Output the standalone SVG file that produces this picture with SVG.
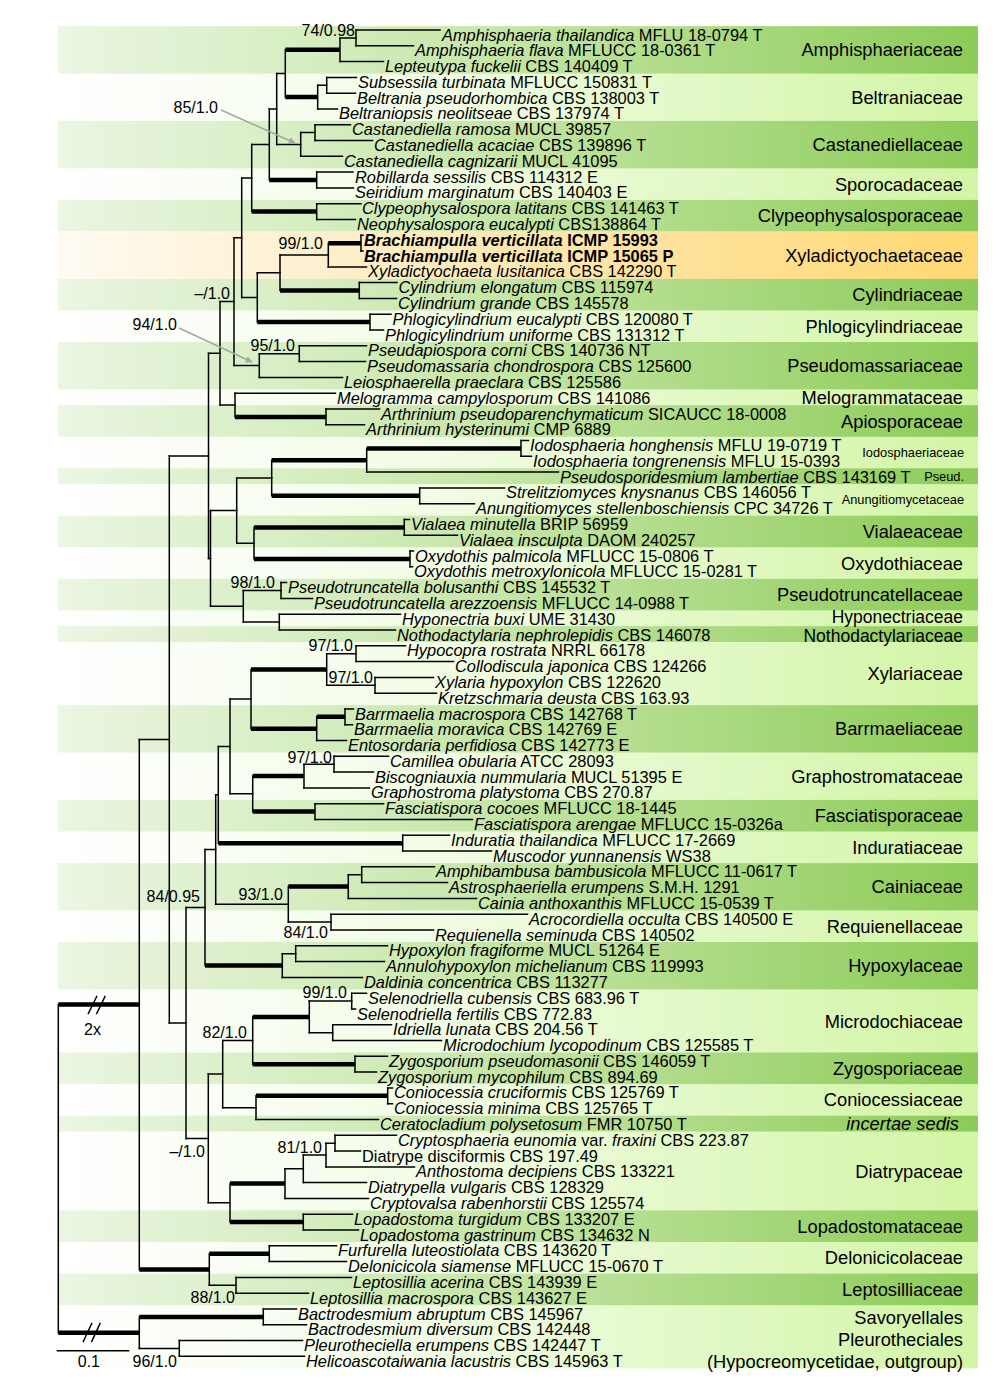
<svg xmlns="http://www.w3.org/2000/svg" width="1001" height="1385" viewBox="0 0 1001 1385">
<defs>
<linearGradient id="gD" gradientUnits="userSpaceOnUse" x1="58" y1="0" x2="978" y2="0"><stop offset="0" stop-color="#ebf6e3"/><stop offset="0.45" stop-color="#c8e7aa"/><stop offset="1" stop-color="#8ccb57"/></linearGradient>
<linearGradient id="gL" gradientUnits="userSpaceOnUse" x1="58" y1="0" x2="978" y2="0"><stop offset="0" stop-color="#ffffff"/><stop offset="0.4" stop-color="#f2fce6"/><stop offset="1" stop-color="#d2f5a5"/></linearGradient>
<linearGradient id="gO" gradientUnits="userSpaceOnUse" x1="58" y1="0" x2="978" y2="0"><stop offset="0" stop-color="#fffbf3"/><stop offset="0.45" stop-color="#fde9b8"/><stop offset="1" stop-color="#ffd872"/></linearGradient>
<marker id="ah" viewBox="0 0 10 10" refX="9" refY="5" markerWidth="7" markerHeight="7" orient="auto" markerUnits="userSpaceOnUse"><path d="M0 0L10 5L0 10z" fill="#a6a6a6"/></marker>
</defs>
<style>
text{font-family:"Liberation Sans",Arial,sans-serif;fill:#000}
.t{font-size:16.4px}
.i{font-style:italic}
.b{font-weight:bold}
.f{font-size:18.3px;text-anchor:end}
.fm{font-size:17.5px;text-anchor:end}
.fs{font-size:12.8px;text-anchor:end}
.s{font-size:16px;text-anchor:end}
.br{fill:none;stroke:#000;stroke-width:1.5;stroke-linecap:square}
.tk{fill:none;stroke:#000;stroke-width:4.5;stroke-linecap:butt}
.ar{fill:none;stroke:#a6a6a6;stroke-width:1.6}
</style>
<rect width="1001" height="1385" fill="#fff"/>
<g id="bands">
<rect x="58" y="26.2" width="920" height="1342.2" fill="url(#gL)"/>
<rect x="58" y="26.2" width="920" height="47.4" fill="url(#gD)"/>
<rect x="58" y="120.9" width="920" height="47.4" fill="url(#gD)"/>
<rect x="58" y="199.9" width="920" height="31.6" fill="url(#gD)"/>
<rect x="58" y="231.5" width="920" height="47.4" fill="url(#gO)"/>
<rect x="58" y="278.9" width="920" height="31.5" fill="url(#gD)"/>
<rect x="58" y="342.0" width="920" height="47.4" fill="url(#gD)"/>
<rect x="58" y="405.2" width="920" height="31.6" fill="url(#gD)"/>
<rect x="58" y="468.3" width="920" height="15.8" fill="url(#gD)"/>
<rect x="58" y="515.7" width="920" height="31.6" fill="url(#gD)"/>
<rect x="58" y="578.8" width="920" height="31.6" fill="url(#gD)"/>
<rect x="58" y="626.2" width="920" height="15.8" fill="url(#gD)"/>
<rect x="58" y="705.2" width="920" height="47.3" fill="url(#gD)"/>
<rect x="58" y="799.9" width="920" height="31.6" fill="url(#gD)"/>
<rect x="58" y="863.1" width="920" height="47.3" fill="url(#gD)"/>
<rect x="58" y="942.0" width="920" height="47.4" fill="url(#gD)"/>
<rect x="58" y="1052.5" width="920" height="31.6" fill="url(#gD)"/>
<rect x="58" y="1115.7" width="920" height="15.8" fill="url(#gD)"/>
<rect x="58" y="1210.4" width="920" height="31.6" fill="url(#gD)"/>
<rect x="58" y="1273.6" width="920" height="31.6" fill="url(#gD)"/>
</g>
<g id="connectors">
<path class="br" d="M356 30V45.8M340 37.9V61.6M326.7 77.4V93.2M317.7 85.3V108.9M285.3 49.75V97.1M315 124.7V140.5M300.7 132.6V156.3M276.7 73.4V144.45M316.7 172.1V187.9M269.3 108.9V180M316.7 203.7V219.5M251.7 144.5V211.6M361 235.3V251.1M328.3 243.2V266.9M359.3 282.6V298.4M280 255.05V290.5M370 314.2V330M257.3 272.8V322.1M241.7 178V297.45M299.3 345.8V361.6M259.3 353.7V377.4M234 237.7V365.55M326 409V424.8M235 393.2V416.9M220 301.6V405.05M521 440.5V456.3M366.7 448.4V472.1M419.7 487.9V503.7M271.7 460.25V495.8M404.3 519.5V535.3M410 551.1V566.8M254 527.4V558.95M236.7 478V543.2M281 582.6V598.4M279.3 614.2V630M243.3 590.5V622.1M210.5 510.6V606.3M208.5 353.3V558.45M356 645.8V661.6M375 677.4V693.2M326.7 653.7V685.3M345 709V724.7M316.7 716.85V740.5M251 669.5V728.7M334 756.3V772.1M304 764.2V787.9M315 803.7V819.5M252.7 776.05V811.6M230 699.1V793.8M402.7 835.3V851.1M218.3 746.45V843.2M361.7 866.8V882.6M348.3 874.7V898.4M331 914.2V930M288.3 886.55V922.1M215.7 794.8V904.3M295.7 945.8V961.6M282.3 953.7V977.4M205 849.55V965.55M351.7 993.2V1009M332.7 1024.8V1040.5M309.3 1001.1V1032.65M355 1056.3V1072.1M252.7 1016.9V1064.2M387.7 1087.9V1103.7M256 1095.8V1119.5M222.7 1040.55V1107.65M335 1135.3V1151.1M326 1143.2V1166.9M303.3 1155.05V1182.6M285 1168.8V1198.4M303.3 1214.2V1230M230 1183.6V1222.1M208.3 1074.1V1202.85M186 907.55V1138.5M169.3 455.9V1023M269.3 1245.8V1261.6M236 1277.4V1293.2M209.3 1253.7V1285.3M139.3 739.45V1269.5M263.3 1309V1324.8M179.3 1340.5V1356.3M139.3 1316.9V1348.4M58.3 1004.5V1332.65"/>
<path class="br" d="M356 30H440M356 45.8H413.5M340 37.9H356M340 61.6H383.5M326.7 77.4H356.5M326.7 93.2H355.5M317.7 85.3H326.7M317.7 108.9H337.5M315 124.7H350.5M315 140.5H372.5M300.7 132.6H315M300.7 156.3H342.5M276.7 73.4H285.3M276.7 144.45H300.7M316.7 172.1H353M316.7 187.9H353.5M269.3 108.9H276.7M316.7 203.7H361M316.7 219.5H355.5M251.7 144.5H269.3M361 235.3H363M361 251.1H363M328.3 266.9H366.5M359.3 282.6H397M359.3 298.4H396.5M280 255.05H328.3M370 314.2H391M370 330H383.5M257.3 272.8H280M241.7 178H251.7M241.7 297.45H257.3M299.3 345.8H366.5M299.3 361.6H365.5M259.3 353.7H299.3M259.3 377.4H342.5M234 237.7H241.7M234 365.55H259.3M326 409H379.5M326 424.8H364.5M235 393.2H335.5M220 301.6H234M220 405.05H235M521 440.5H528.5M521 456.3H531.5M366.7 472.1H558.5M419.7 487.9H504.5M419.7 503.7H474.5M404.3 519.5H409.5M404.3 535.3H457.5M410 551.1H413.5M410 566.8H412.5M236.7 478H271.7M236.7 543.2H254M281 582.6H286.5M281 598.4H312.5M279.3 614.2H400.5M279.3 630H395.5M243.3 590.5H281M243.3 622.1H279.3M210.5 510.6H236.7M210.5 606.3H243.3M208.5 353.3H220M208.5 558.45H210.5M356 645.8H405.5M356 661.6H453.5M375 677.4H433.5M375 693.2H436.5M326.7 653.7H356M326.7 685.3H375M345 709H353.5M345 724.7H352.5M316.7 740.5H346.5M334 756.3H388.5M334 772.1H373.5M304 764.2H334M304 787.9H369.5M315 803.7H383.5M315 819.5H472.5M230 699.1H251M230 793.8H252.7M402.7 835.3H449.5M402.7 851.1H491.5M218.3 746.45H230M361.7 866.8H434.5M361.7 882.6H447.5M348.3 874.7H361.7M348.3 898.4H476.5M331 914.2H527.5M331 930H433.5M288.3 922.1H331M215.7 794.8H218.3M215.7 904.3H288.3M295.7 945.8H387.5M295.7 961.6H384.5M282.3 953.7H295.7M282.3 977.4H362.5M205 849.55H215.7M351.7 993.2H366.5M351.7 1009H355.5M332.7 1024.8H391.5M332.7 1040.5H441.5M309.3 1001.1H351.7M309.3 1032.65H332.7M355 1056.3H387.5M355 1072.1H376.5M387.7 1087.9H392.5M387.7 1103.7H392.5M256 1119.5H378.5M222.7 1040.55H252.7M222.7 1107.65H256M335 1135.3H396.5M335 1151.1H360.5M326 1143.2H335M326 1166.9H414.5M303.3 1155.05H326M303.3 1182.6H366.5M285 1168.8H303.3M285 1198.4H368.5M303.3 1214.2H352.5M303.3 1230H358.5M208.3 1074.1H222.7M208.3 1202.85H230M186 907.55H205M186 1138.5H208.3M169.3 455.9H208.5M169.3 1023H186M269.3 1245.8H336.5M269.3 1261.6H346.5M236 1277.4H351.5M236 1293.2H308.5M209.3 1285.3H236M139.3 739.45H169.3M263.3 1309H296.5M263.3 1324.8H306.5M179.3 1340.5H302.5M179.3 1356.3H304.5M139.3 1348.4H179.3"/>
<path class="tk" d="M285.3 49.75H340M285.3 97.1H317.7M269.3 180H316.7M251.7 211.6H316.7M328.3 243.2H361M280 290.5H359.3M257.3 322.1H370M235 416.9H326M271.7 460.25H366.7M271.7 495.8H419.7M366.7 448.4H521M254 527.4H404.3M254 558.95H410M251 669.5H326.7M251 728.7H316.7M316.7 716.85H345M252.7 776.05H304M252.7 811.6H315M218.3 843.2H402.7M288.3 886.55H348.3M205 965.55H282.3M252.7 1016.9H309.3M252.7 1064.2H355M256 1095.8H387.7M230 1183.6H285M230 1222.1H303.3M209.3 1253.7H269.3M139.3 1269.5H209.3M58.3 1004.5H139.3M58.3 1332.65H139.3M139.3 1316.9H263.3"/>
<path class="br" d="M88.3 1013.5L96.7 996.5M96.7 1013.5L105 996.5M83.3 1341.5L91.7 1323.5M91.7 1341.5L100 1323.5"/>
<path class="br" style="stroke-linecap:butt" d="M56.7 1350.7H129.3"/>
<path class="ar" marker-end="url(#ah)" d="M221 110L295 143"/>
<path class="ar" marker-end="url(#ah)" d="M179 328L252 362"/>
</g>
<g id="support">
<text class="s" x="355" y="36">74/0.98</text>
<text class="s" x="218" y="113">85/1.0</text>
<text class="s" x="323" y="248.5">99/1.0</text>
<text class="s" x="230" y="298.5">–/1.0</text>
<text class="s" x="177" y="330">94/1.0</text>
<text class="s" x="295" y="350.5">95/1.0</text>
<text class="s" x="275" y="588">98/1.0</text>
<text class="s" x="353" y="651">97/1.0</text>
<text class="s" x="373" y="683">97/1.0</text>
<text class="s" x="332" y="763">97/1.0</text>
<text class="s" x="200" y="901.5">84/0.95</text>
<text class="s" x="283" y="900">93/1.0</text>
<text class="s" x="328" y="938">84/1.0</text>
<text class="s" x="347" y="998">99/1.0</text>
<text class="s" x="247" y="1038">82/1.0</text>
<text class="s" x="205" y="1156.5">–/1.0</text>
<text class="s" x="322" y="1152.5">81/1.0</text>
<text class="s" x="235" y="1303">88/1.0</text>
<text class="s" x="177" y="1366.5">96/1.0</text>
<text class="s" x="100" y="1366.5">0.1</text>
<text class="s" x="101" y="1035">2x</text>
</g>
<g id="taxa" class="t">
<g id="n01"><text x="442" y="40.5"><tspan class="i">Amphisphaeria thailandica</tspan> MFLU 18-0794 T</text></g>
<g id="n02"><text x="415" y="56.3"><tspan class="i">Amphisphaeria flava</tspan> MFLUCC 18-0361 T</text></g>
<g id="n03"><text x="385" y="72.1"><tspan class="i">Lepteutypa fuckelii</tspan> CBS 140409 T</text></g>
<g id="n04"><text x="358" y="87.9"><tspan class="i">Subsessila turbinata</tspan> MFLUCC 150831 T</text></g>
<g id="n05"><text x="357" y="103.7"><tspan class="i">Beltrania pseudorhombica</tspan> CBS 138003 T</text></g>
<g id="n06"><text x="339" y="119.4"><tspan class="i">Beltraniopsis neolitseae</tspan> CBS 137974 T</text></g>
<g id="n07"><text x="352" y="135.2"><tspan class="i">Castanediella ramosa</tspan> MUCL 39857</text></g>
<g id="n08"><text x="374" y="151"><tspan class="i">Castanediella acaciae</tspan> CBS 139896 T</text></g>
<g id="n09"><text x="344" y="166.8"><tspan class="i">Castanediella cagnizarii</tspan> MUCL 41095</text></g>
<g id="n10"><text x="355" y="182.6"><tspan class="i">Robillarda sessilis</tspan> CBS 114312 E</text></g>
<g id="n11"><text x="355" y="198.4"><tspan class="i">Seiridium marginatum</tspan> CBS 140403 E</text></g>
<g id="n12"><text x="362" y="214.2"><tspan class="i">Clypeophysalospora latitans</tspan> CBS 141463 T</text></g>
<g id="n13"><text x="357" y="230"><tspan class="i">Neophysalospora eucalypti</tspan> CBS138864 T</text></g>
<g id="n14"><text class="b" x="364" y="245.8"><tspan class="i">Brachiampulla verticillata</tspan> ICMP 15993</text></g>
<g id="n15"><text class="b" x="364" y="261.6"><tspan class="i">Brachiampulla verticillata</tspan> ICMP 15065 P</text></g>
<g id="n16"><text x="368" y="277.4"><tspan class="i">Xyladictyochaeta lusitanica</tspan> CBS 142290 T</text></g>
<g id="n17"><text x="398.5" y="293.1"><tspan class="i">Cylindrium elongatum</tspan> CBS 115974</text></g>
<g id="n18"><text x="398" y="308.9"><tspan class="i">Cylindrium grande</tspan> CBS 145578</text></g>
<g id="n19"><text x="392.5" y="324.7"><tspan class="i">Phlogicylindrium eucalypti</tspan> CBS 120080 T</text></g>
<g id="n20"><text x="385" y="340.5"><tspan class="i">Phlogicylindrium uniforme</tspan> CBS 131312 T</text></g>
<g id="n21"><text x="368" y="356.3"><tspan class="i">Pseudapiospora corni</tspan> CBS 140736 NT</text></g>
<g id="n22"><text x="367" y="372.1"><tspan class="i">Pseudomassaria chondrospora</tspan> CBS 125600</text></g>
<g id="n23"><text x="344" y="387.9"><tspan class="i">Leiosphaerella praeclara</tspan> CBS 125586</text></g>
<g id="n24"><text x="337" y="403.7"><tspan class="i">Melogramma campylosporum</tspan> CBS 141086</text></g>
<g id="n25"><text x="381" y="419.5"><tspan class="i">Arthrinium pseudoparenchymaticum</tspan> SICAUCC 18-0008</text></g>
<g id="n26"><text x="366" y="435.3"><tspan class="i">Arthrinium hysterinumi</tspan> CMP 6889</text></g>
<g id="n27"><text x="530" y="451"><tspan class="i">Iodosphaeria honghensis</tspan> MFLU 19-0719 T</text></g>
<g id="n28"><text x="533" y="466.8"><tspan class="i">Iodosphaeria tongrenensis</tspan> MFLU 15-0393</text></g>
<g id="n29"><text x="560" y="482.6"><tspan class="i">Pseudosporidesmium lambertiae</tspan> CBS 143169 T</text></g>
<g id="n30"><text x="506" y="498.4"><tspan class="i">Strelitziomyces knysnanus</tspan> CBS 146056 T</text></g>
<g id="n31"><text x="476" y="514.2"><tspan class="i">Anungitiomyces stellenboschiensis</tspan> CPC 34726 T</text></g>
<g id="n32"><text x="411" y="530"><tspan class="i">Vialaea minutella</tspan> BRIP 56959</text></g>
<g id="n33"><text x="459" y="545.8"><tspan class="i">Vialaea insculpta</tspan> DAOM 240257</text></g>
<g id="n34"><text x="415" y="561.6"><tspan class="i">Oxydothis palmicola</tspan> MFLUCC 15-0806 T</text></g>
<g id="n35"><text x="414" y="577.3"><tspan class="i">Oxydothis metroxylonicola</tspan> MFLUCC 15-0281 T</text></g>
<g id="n36"><text x="288" y="593.1"><tspan class="i">Pseudotruncatella bolusanthi</tspan> CBS 145532 T</text></g>
<g id="n37"><text x="314" y="608.9"><tspan class="i">Pseudotruncatella arezzoensis</tspan> MFLUCC 14-0988 T</text></g>
<g id="n38"><text x="402" y="624.7"><tspan class="i">Hyponectria buxi</tspan> UME 31430</text></g>
<g id="n39"><text x="397" y="640.5"><tspan class="i">Nothodactylaria nephrolepidis</tspan> CBS 146078</text></g>
<g id="n40"><text x="407" y="656.3"><tspan class="i">Hypocopra rostrata</tspan> NRRL 66178</text></g>
<g id="n41"><text x="455" y="672.1"><tspan class="i">Collodiscula japonica</tspan> CBS 124266</text></g>
<g id="n42"><text x="435" y="687.9"><tspan class="i">Xylaria hypoxylon</tspan> CBS 122620</text></g>
<g id="n43"><text x="438" y="703.7"><tspan class="i">Kretzschmaria deusta</tspan> CBS 163.93</text></g>
<g id="n44"><text x="355" y="719.5"><tspan class="i">Barrmaelia macrospora</tspan> CBS 142768 T</text></g>
<g id="n45"><text x="354" y="735.2"><tspan class="i">Barrmaelia moravica</tspan> CBS 142769 E</text></g>
<g id="n46"><text x="348" y="751"><tspan class="i">Entosordaria perfidiosa</tspan> CBS 142773 E</text></g>
<g id="n47"><text x="390" y="766.8"><tspan class="i">Camillea obularia</tspan> ATCC 28093</text></g>
<g id="n48"><text x="375" y="782.6"><tspan class="i">Biscogniauxia nummularia</tspan> MUCL 51395 E</text></g>
<g id="n49"><text x="371" y="798.4"><tspan class="i">Graphostroma platystoma</tspan> CBS 270.87</text></g>
<g id="n50"><text x="385" y="814.2"><tspan class="i">Fasciatispora cocoes</tspan> MFLUCC 18-1445</text></g>
<g id="n51"><text x="474" y="830"><tspan class="i">Fasciatispora arengae</tspan> MFLUCC 15-0326a</text></g>
<g id="n52"><text x="451" y="845.8"><tspan class="i">Induratia thailandica</tspan> MFLUCC 17-2669</text></g>
<g id="n53"><text x="493" y="861.6"><tspan class="i">Muscodor yunnanensis</tspan> WS38</text></g>
<g id="n54"><text x="436" y="877.3"><tspan class="i">Amphibambusa bambusicola</tspan> MFLUCC 11-0617 T</text></g>
<g id="n55"><text x="449" y="893.1"><tspan class="i">Astrosphaeriella erumpens</tspan> S.M.H. 1291</text></g>
<g id="n56"><text x="478" y="908.9"><tspan class="i">Cainia anthoxanthis</tspan> MFLUCC 15-0539 T</text></g>
<g id="n57"><text x="529" y="924.7"><tspan class="i">Acrocordiella occulta</tspan> CBS 140500 E</text></g>
<g id="n58"><text x="435" y="940.5"><tspan class="i">Requienella seminuda</tspan> CBS 140502</text></g>
<g id="n59"><text x="389" y="956.3"><tspan class="i">Hypoxylon fragiforme</tspan> MUCL 51264 E</text></g>
<g id="n60"><text x="386" y="972.1"><tspan class="i">Annulohypoxylon michelianum</tspan> CBS 119993</text></g>
<g id="n61"><text x="364" y="987.9"><tspan class="i">Daldinia concentrica</tspan> CBS 113277</text></g>
<g id="n62"><text x="368" y="1003.7"><tspan class="i">Selenodriella cubensis</tspan> CBS 683.96 T</text></g>
<g id="n63"><text x="357" y="1019.5"><tspan class="i">Selenodriella fertilis</tspan> CBS 772.83</text></g>
<g id="n64"><text x="393" y="1035.3"><tspan class="i">Idriella lunata</tspan> CBS 204.56 T</text></g>
<g id="n65"><text x="443" y="1051"><tspan class="i">Microdochium lycopodinum</tspan> CBS 125585 T</text></g>
<g id="n66"><text x="389" y="1066.8"><tspan class="i">Zygosporium pseudomasonii</tspan> CBS 146059 T</text></g>
<g id="n67"><text x="378" y="1082.6"><tspan class="i">Zygosporium mycophilum</tspan> CBS 894.69</text></g>
<g id="n68"><text x="394" y="1098.4"><tspan class="i">Coniocessia cruciformis</tspan> CBS 125769 T</text></g>
<g id="n69"><text x="394" y="1114.2"><tspan class="i">Coniocessia minima</tspan> CBS 125765 T</text></g>
<g id="n70"><text x="380" y="1130"><tspan class="i">Ceratocladium polysetosum</tspan> FMR 10750 T</text></g>
<g id="n71"><text x="398" y="1145.8"><tspan class="i">Cryptosphaeria eunomia</tspan> var. <tspan class="i">fraxini</tspan> CBS 223.87</text></g>
<g id="n72"><text x="362" y="1161.6">Diatrype disciformis CBS 197.49</text></g>
<g id="n73"><text x="416" y="1177.4"><tspan class="i">Anthostoma decipiens</tspan> CBS 133221</text></g>
<g id="n74"><text x="368" y="1193.1"><tspan class="i">Diatrypella vulgaris</tspan> CBS 128329</text></g>
<g id="n75"><text x="370" y="1208.9"><tspan class="i">Cryptovalsa rabenhorstii</tspan> CBS 125574</text></g>
<g id="n76"><text x="354" y="1224.7"><tspan class="i">Lopadostoma turgidum</tspan> CBS 133207 E</text></g>
<g id="n77"><text x="360" y="1240.5"><tspan class="i">Lopadostoma gastrinum</tspan> CBS 134632 N</text></g>
<g id="n78"><text x="338" y="1256.3"><tspan class="i">Furfurella luteostiolata</tspan> CBS 143620 T</text></g>
<g id="n79"><text x="348" y="1272.1"><tspan class="i">Delonicicola siamense</tspan> MFLUCC 15-0670 T</text></g>
<g id="n80"><text x="353" y="1287.9"><tspan class="i">Leptosillia acerina</tspan> CBS 143939 E</text></g>
<g id="n81"><text x="310" y="1303.7"><tspan class="i">Leptosillia macrospora</tspan> CBS 143627 E</text></g>
<g id="n82"><text x="298" y="1319.5"><tspan class="i">Bactrodesmium abruptum</tspan> CBS 145967</text></g>
<g id="n83"><text x="308" y="1335.3"><tspan class="i">Bactrodesmium diversum</tspan> CBS 142448</text></g>
<g id="n84"><text x="304" y="1351"><tspan class="i">Pleurotheciella erumpens</tspan> CBS 142447 T</text></g>
<g id="n85"><text x="306" y="1366.8"><tspan class="i">Helicoascotaiwania lacustris</tspan> CBS 145963 T</text></g>
</g>
<g id="families">
<g id="f01"><text class="f" x="963" y="56.4">Amphisphaeriaceae</text></g>
<g id="f02"><text class="f" x="963" y="103.8">Beltraniaceae</text></g>
<g id="f03"><text class="f" x="963" y="151.1">Castanediellaceae</text></g>
<g id="f04"><text class="f" x="963" y="190.6">Sporocadaceae</text></g>
<g id="f05"><text class="f" x="963" y="222.2">Clypeophysalosporaceae</text></g>
<g id="f06"><text class="f" x="963" y="261.7">Xyladictyochaetaceae</text></g>
<g id="f07"><text class="f" x="963" y="301.2">Cylindriaceae</text></g>
<g id="f08"><text class="f" x="963" y="332.7">Phlogicylindriaceae</text></g>
<g id="f09"><text class="f" x="963" y="372.2">Pseudomassariaceae</text></g>
<g id="f10"><text class="f" x="963" y="403.8">Melogrammataceae</text></g>
<g id="f11"><text class="f" x="963" y="427.5">Apiosporaceae</text></g>
<g id="f12"><text class="fs" x="964" y="457">Iodosphaeriaceae</text></g>
<g id="f13"><text class="fs" x="964" y="480.7">Pseud.</text></g>
<g id="f14"><text class="fs" x="964" y="504.4">Anungitiomycetaceae</text></g>
<g id="f15"><text class="f" x="963" y="538">Vialaeaceae</text></g>
<g id="f16"><text class="f" x="963" y="569.6">Oxydothiaceae</text></g>
<g id="f17"><text class="f" x="963" y="601.1">Pseudotruncatellaceae</text></g>
<g id="f18"><text class="fm" x="963" y="622.5">Hyponectriaceae</text></g>
<g id="f19"><text class="fm" x="963" y="642.2">Nothodactylariaceae</text></g>
<g id="f20"><text class="f" x="963" y="680.1">Xylariaceae</text></g>
<g id="f21"><text class="f" x="963" y="735.4">Barrmaeliaceae</text></g>
<g id="f22"><text class="f" x="963" y="782.7">Graphostromataceae</text></g>
<g id="f23"><text class="f" x="963" y="822.2">Fasciatisporaceae</text></g>
<g id="f24"><text class="f" x="963" y="853.8">Induratiaceae</text></g>
<g id="f25"><text class="f" x="963" y="893.3">Cainiaceae</text></g>
<g id="f26"><text class="f" x="963" y="932.7">Requienellaceae</text></g>
<g id="f27"><text class="f" x="963" y="972.2">Hypoxylaceae</text></g>
<g id="f28"><text class="f" x="963" y="1027.5">Microdochiaceae</text></g>
<g id="f29"><text class="f" x="963" y="1074.8">Zygosporiaceae</text></g>
<g id="f30"><text class="f" x="963" y="1106.4">Coniocessiaceae</text></g>
<g id="f31"><text class="f i" x="959" y="1130.1">incertae sedis</text></g>
<g id="f32"><text class="f" x="963" y="1177.5">Diatrypaceae</text></g>
<g id="f33"><text class="f" x="963" y="1232.7">Lopadostomataceae</text></g>
<g id="f34"><text class="f" x="963" y="1264.3">Delonicicolaceae</text></g>
<g id="f35"><text class="f" x="963" y="1295.9">Leptosilliaceae</text></g>
<g id="f36"><text class="f" x="963" y="1323.5">Savoryellales</text></g>
<g id="f37"><text class="f" x="963" y="1345.5">Pleurotheciales</text></g>
<g id="f38"><text class="f" x="963" y="1367.5">(Hypocreomycetidae, outgroup)</text></g>
</g>
</svg>
